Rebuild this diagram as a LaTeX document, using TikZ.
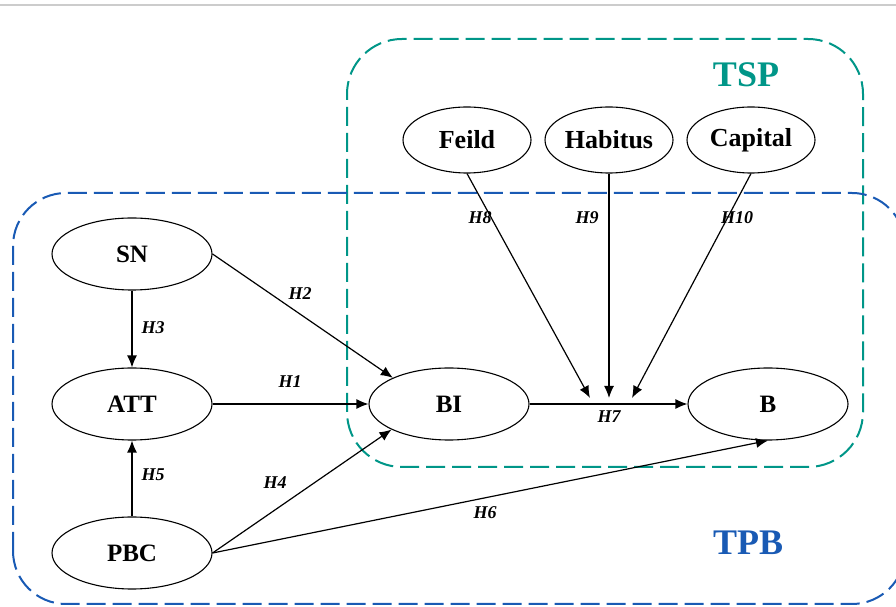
\documentclass[tikz,border=0pt]{standalone}
\usepackage{fontspec}
\setmainfont{Liberation Serif}
\usetikzlibrary{shapes.geometric,arrows.meta}
\definecolor{tspcol}{RGB}{0,150,136}
\definecolor{tpbcol}{RGB}{25,90,180}
\begin{document}
\begin{tikzpicture}[x=1pt,y=1pt,
    var/.style={draw,ellipse,line width=1.1pt,inner sep=0pt,minimum width=160pt,minimum height=72pt,
        font=\fontsize{25}{28}\selectfont\bfseries},
    fld/.style={var,minimum width=128pt,minimum height=66pt,font=\fontsize{26}{28}\selectfont\bfseries},
    hyp/.style={font=\fontsize{18}{20}\selectfont\bfseries\itshape},
    arr/.style={line width=1.2pt,-{Latex[length=12pt,width=10pt]}},
    frame/.style={line width=2pt,dash pattern=on 19pt off 7pt}]
            \useasboundingbox (0,0) rectangle (896,607);
            \draw[gray!40,line width=2pt] (0,602) -- (896,602);
            % the two theory frames
            \draw[frame,tspcol,rounded corners=55pt] (347,140) rectangle (863,568);
            \draw[frame,tpbcol,rounded corners=53pt] (13,3) rectangle (905,414);
            \node[tspcol,font=\fontsize{36}{40}\selectfont\bfseries] (tsp) at (746,532) {TSP};
            \node[tpbcol,font=\fontsize{36}{40}\selectfont\bfseries] (tpb) at (748,64) {TPB};
            % variables
            \node[var] (sn) at (132,353) {SN};
            \node[var] (att) at (132,203) {ATT};
            \node[var] (pbc) at (132,54) {PBC};
            \node[var] (bi) at (449,203) {BI};
            \node[var] (b) at (768,203) {B};
            \node[fld] (feild) at (467,467) {Feild};
            \node[fld] (habitus) at (609,467) {Habitus};
            \node[fld] (capital) at (751,467) {Capital};
            \coordinate (m8) at (590,209);
            \coordinate (m9) at (609,209);
            \coordinate (m10) at (632,209);
            % paths
            \draw[arr] (att.east) -- (bi.west);
            \draw[arr] (sn.east) -- (bi.155);
            \draw[arr] (sn.south) -- (att.north);
            \draw[arr] (pbc.east) -- (bi.204);
            \draw[arr] (pbc.north) -- (att.south);
            \draw[arr] (pbc.east) -- (b.south);
            \draw[arr] (bi.east) -- (b.west);
            \draw[arr] (feild.south) -- (m8);
            \draw[arr] (habitus.south) -- (m9);
            \draw[arr] (capital.south) -- (m10);
            % hypotheses
            \node[hyp] (h1) at (290,225) {H1};
            \node[hyp] (h2) at (300,313) {H2};
            \node[hyp] (h3) at (153,279) {H3};
            \node[hyp] (h4) at (275,124) {H4};
            \node[hyp] (h5) at (153,132) {H5};
            \node[hyp] (h6) at (485,94) {H6};
            \node[hyp] (h7) at (609,190) {H7};
            \node[hyp] (h8) at (480,389) {H8};
            \node[hyp] (h9) at (587,389) {H9};
            \node[hyp] (h10) at (737,389) {H10};
            \end{tikzpicture}
\end{document}
